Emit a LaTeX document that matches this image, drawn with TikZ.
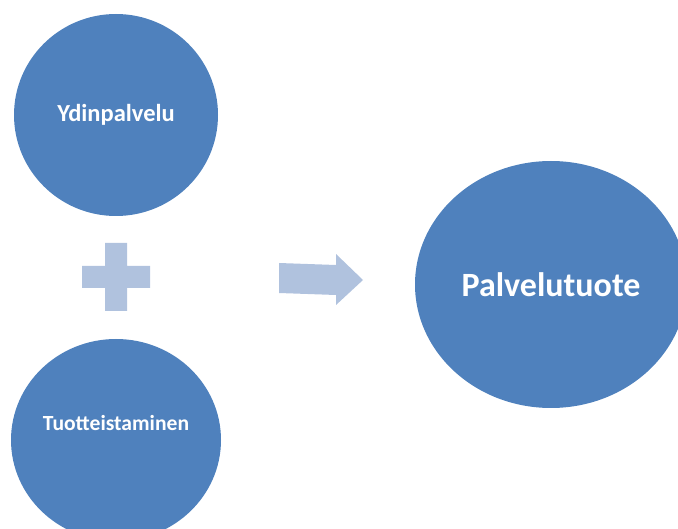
\documentclass[tikz,border=0pt]{standalone}
\usepackage{fontspec}
\setmainfont{Carlito}
\usetikzlibrary{shapes.geometric}
\definecolor{circblue}{HTML}{4F81BD}
\definecolor{lightblue}{HTML}{B0C2DE}
\begin{document}
\begin{tikzpicture}[x=1pt,y=-1pt,
  bubble/.style={ellipse,fill=circblue,draw=none,inner sep=0pt},
  lbl/.style={text=white,font=\bfseries},
  sym/.style={fill=lightblue,draw=none}]
\useasboundingbox (0,0) rectangle (678,529);
\begin{scope}
\clip (0,0) rectangle (678,529);
\node[bubble,minimum width=204pt,minimum height=202pt] (core) at (116,115) {};
\node[bubble,minimum width=210pt,minimum height=202pt] (prod) at (116,440) {};
\node[bubble,minimum width=272pt,minimum height=247pt] (serv) at (551,284.5) {};
\end{scope}
\node[lbl,font=\bfseries\fontsize{24.5}{28}\selectfont] (coret) at (core.center) {Ydinpalvelu};
\node[lbl,font=\bfseries\fontsize{21.6}{25}\selectfont] (prodt) at (116,423) {Tuotteistaminen};
\node[lbl,font=\bfseries\fontsize{34}{39}\selectfont] (servt) at (serv.center) {Palvelutuote};
% plus
\coordinate (plus) at (116,277);
\fill[sym] (105,243) -- (127,243) -- (127,266) -- (150,266) -- (150,288) -- (127,288)
  -- (127,311) -- (105,311) -- (105,288) -- (82,288) -- (82,266) -- (105,266) -- cycle;
% arrow
\coordinate (arr) at (320,280);
\fill[sym] (279,263) -- (336,265) -- (336,254) -- (363,280) -- (336,305) -- (336,295) -- (279,293) -- cycle;
\end{tikzpicture}
\end{document}
